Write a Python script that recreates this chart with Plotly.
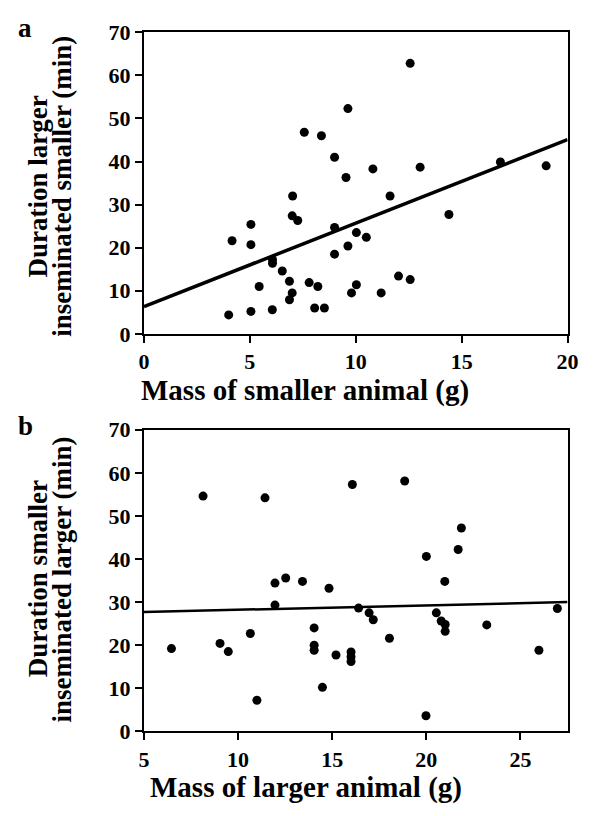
import plotly.graph_objects as go

# Panel a: mass of smaller animal (g) vs duration larger inseminated smaller (min)
a_mass = [12.57, 9.63, 7.57, 8.38, 9.0, 10.81, 13.04, 9.54, 16.83, 18.99,
          7.02, 11.62, 14.4, 5.05, 4.16, 5.05, 7.0, 7.26, 9.0, 10.03,
          10.5, 9.63, 9.0, 6.07, 6.07, 6.53, 6.87, 7.8, 8.21, 5.44,
          12.02, 12.57, 10.03, 7.0, 6.87, 9.8, 11.2, 4.0, 5.05, 6.06,
          8.06, 8.52]
a_dur = [62.8, 52.3, 46.8, 46.0, 41.0, 38.3, 38.7, 36.3, 39.9, 39.0,
         32.0, 32.0, 27.7, 25.4, 21.6, 20.7, 27.4, 26.3, 24.7, 23.5,
         22.4, 20.4, 18.5, 17.2, 16.4, 14.6, 12.2, 11.9, 11.0, 11.0,
         13.4, 12.6, 11.4, 9.5, 7.9, 9.5, 9.5, 4.4, 5.2, 5.6,
         6.0, 6.0]
a_fit_x = [0, 20]
a_fit_y = [6.3, 45.1]

# Panel b: mass of larger animal (g) vs duration smaller inseminated larger (min)
b_mass = [8.14, 11.43, 16.07, 18.85, 21.86, 21.69, 20.0, 11.96, 12.53, 13.42,
          14.83, 20.98, 11.96, 16.4, 16.96, 17.18, 20.53, 20.79, 21.0, 21.0,
          23.21, 26.96, 25.98, 18.04, 14.04, 14.04, 14.04, 10.65, 9.04, 9.48,
          6.46, 15.2, 16.0, 16.0, 16.0, 14.48, 11.0, 19.98]
b_dur = [54.6, 54.2, 57.3, 58.1, 47.2, 42.2, 40.6, 34.4, 35.6, 34.8,
         33.2, 34.8, 29.3, 28.6, 27.5, 25.9, 27.5, 25.6, 24.8, 23.2,
         24.7, 28.5, 18.8, 21.6, 24.0, 20.0, 18.8, 22.7, 20.4, 18.5,
         19.2, 17.7, 18.4, 17.3, 16.2, 10.2, 7.2, 3.6]
b_fit_x = [5, 27.5]
b_fit_y = [27.7, 30.0]

a_xticks = [0, 5, 10, 15, 20]
b_xticks = [5, 10, 15, 20, 25]
y_ticks = [0, 10, 20, 30, 40, 50, 60, 70]

FONT = "Liberation Serif"
W, H = 597, 816

fig = go.Figure()
mk = dict(color="black", size=9, symbol="circle")
fig.add_trace(go.Scatter(x=a_fit_x, y=a_fit_y, mode="lines",
                         line=dict(color="black", width=3.5), xaxis="x", yaxis="y", showlegend=False))
fig.add_trace(go.Scatter(x=a_mass, y=a_dur, mode="markers", marker=mk,
                         xaxis="x", yaxis="y", showlegend=False))
fig.add_trace(go.Scatter(x=b_fit_x, y=b_fit_y, mode="lines",
                         line=dict(color="black", width=2.5), xaxis="x2", yaxis="y2", showlegend=False))
fig.add_trace(go.Scatter(x=b_mass, y=b_dur, mode="markers", marker=mk,
                         xaxis="x2", yaxis="y2", showlegend=False))

def px_x(p):
    return p / W

def px_y(p):
    return 1 - p / H

axcommon = dict(showgrid=False, zeroline=False, showline=True, linecolor="black",
                linewidth=2, mirror=True, ticks="outside", ticklen=7, tickwidth=2,
                tickcolor="black",
                tickfont=dict(family=FONT, size=22, color="black", weight="bold"))

xdom = [px_x(142), px_x(578)]
fig.update_layout(
    width=W, height=H,
    margin=dict(l=0, r=0, t=0, b=0),
    paper_bgcolor="white", plot_bgcolor="white",
    xaxis=dict(domain=xdom, range=[0, 20], tickvals=a_xticks, anchor="y", **axcommon),
    yaxis=dict(domain=[px_y(332), px_y(21)], range=[0, 70], tickvals=y_ticks, anchor="x", **axcommon),
    xaxis2=dict(domain=xdom, range=[5, 27.5], tickvals=b_xticks, anchor="y2", **axcommon),
    yaxis2=dict(domain=[px_y(742), px_y(431)], range=[0, 70], tickvals=y_ticks, anchor="x2", **axcommon),
)

xtfont = dict(family=FONT, size=29, color="black", weight="bold")
ytfont = dict(family=FONT, size=27, color="black", weight="bold")
lfont = dict(family=FONT, size=27, color="black", weight="bold")
ann = [
    dict(text="a", x=px_x(20), y=px_y(16), xanchor="center", yanchor="middle", font=lfont),
    dict(text="b", x=px_x(20), y=px_y(427), xanchor="center", yanchor="middle", font=lfont),
    dict(text="Mass of smaller animal (g)", x=px_x(308), y=px_y(390),
         xanchor="center", yanchor="middle", font=xtfont),
    dict(text="Mass of larger animal (g)", x=px_x(309), y=px_y(800),
         xanchor="center", yanchor="middle", font=xtfont),
    dict(text="Duration larger", x=px_x(33), y=px_y(180),
         xanchor="center", yanchor="middle", textangle=-90, font=ytfont),
    dict(text="inseminated smaller (min)", x=px_x(58), y=px_y(180),
         xanchor="center", yanchor="middle", textangle=-90, font=ytfont),
    dict(text="Duration smaller", x=px_x(33), y=px_y(585),
         xanchor="center", yanchor="middle", textangle=-90, font=ytfont),
    dict(text="inseminated larger (min)", x=px_x(58), y=px_y(585),
         xanchor="center", yanchor="middle", textangle=-90, font=ytfont),
]
for a in ann:
    a.update(xref="paper", yref="paper", showarrow=False)
fig.update_layout(annotations=ann)

fig.write_html("out.html")
